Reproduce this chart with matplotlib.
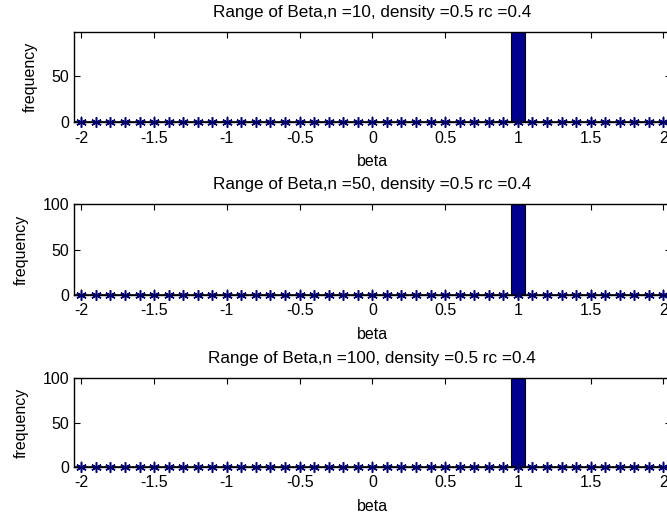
import matplotlib
matplotlib.use('Agg')
from matplotlib import pyplot as plt

plt.rcParams['font.family'] = ['Liberation Sans', 'DejaVu Sans']

# bin centres of the beta histogram
beta_bins = [-2.0, -1.9, -1.8, -1.7, -1.6, -1.5, -1.4, -1.3, -1.2, -1.1,
             -1.0, -0.9, -0.8, -0.7, -0.6, -0.5, -0.4, -0.3, -0.2, -0.1,
             0.0, 0.1, 0.2, 0.3, 0.4, 0.5, 0.6, 0.7, 0.8, 0.9,
             1.0, 1.1, 1.2, 1.3, 1.4, 1.5, 1.6, 1.7, 1.8, 1.9, 2.0]

# counts per bin (only bins 0.9 and 1.0 are non-zero)
counts_n10 = [0] * 29 + [1, 100] + [0] * 10
counts_n50 = [0] * 30 + [100] + [0] * 10
counts_n100 = [0] * 30 + [100] + [0] * 10

panels = [
    (counts_n10, 'Range of Beta,n =10, density =0.5 rc =0.4', 98, [0, 50]),
    (counts_n50, 'Range of Beta,n =50, density =0.5 rc =0.4', 100, [0, 50, 100]),
    (counts_n100, 'Range of Beta,n =100, density =0.5 rc =0.4', 100, [0, 50, 100]),
]

xticks = [-2, -1.5, -1, -0.5, 0, 0.5, 1, 1.5, 2]
xticklabels = ['-2', '-1.5', '-1', '-0.5', '0', '0.5', '1', '1.5', '2']

fig = plt.figure(figsize=(6.67, 5.18), dpi=100)

# axes boxes [left, bottom, width, height] in figure fraction
boxes = [[0.111, 0.764, 0.8945, 0.174],
         [0.111, 0.4305, 0.8945, 0.1755],
         [0.111, 0.0985, 0.8945, 0.1715]]

fs = 11.5
for box, (counts, title, ytop, yticks) in zip(boxes, panels):
    ax = fig.add_axes(box)
    ax.bar(beta_bins, counts, width=0.1, color='#00008f', edgecolor='black',
           linewidth=0.8, zorder=2)
    ax.axhline(0, color='black', linewidth=1.2, zorder=3)
    ax.plot(beta_bins, [0] * len(beta_bins), linestyle='none',
            marker=(6, 2, 0), markersize=7.5, markeredgewidth=1.1,
            color='#000070', zorder=4, clip_on=False)
    ax.set_xlim(-2.05, 2.05)
    ax.set_ylim(0, ytop)
    ax.set_xticks(xticks)
    ax.set_xticklabels(xticklabels)
    ax.set_yticks(yticks)
    ax.tick_params(axis='x', pad=6)
    ax.tick_params(direction='in', top=True, right=True, length=4.5,
                   labelsize=fs)
    for s in ax.spines.values():
        s.set_linewidth(1)
    ax.set_title(title, fontsize=12.3, pad=11)
    ax.set_xlabel('beta', fontsize=fs, labelpad=6)
    ax.set_ylabel('frequency', fontsize=fs, labelpad=10)

fig.savefig('out.png', dpi=100)
